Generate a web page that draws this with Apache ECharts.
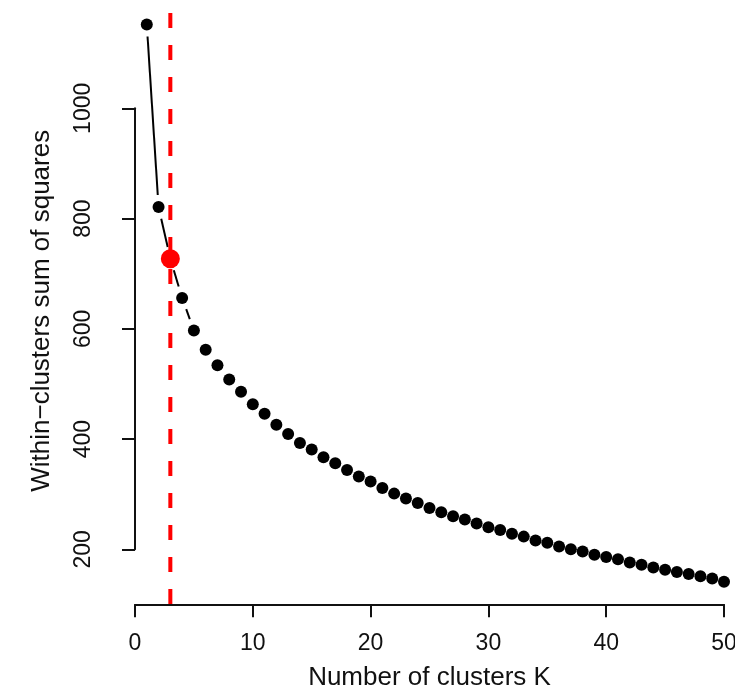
<!DOCTYPE html>
<html>
<head>
<meta charset="utf-8">
<title>Elbow plot</title>
<script src="https://cdn.jsdelivr.net/npm/echarts@6/dist/echarts.min.js"></script>
<style>
  html, body { margin: 0; padding: 0; background: #fff; }
  #chart { width: 735px; height: 691px; }
</style>
</head>
<body>
<div id="chart"></div>
<script>
// Number of clusters tried
const clusterK = [1, 2, 3, 4, 5, 6, 7, 8, 9, 10,
  11, 12, 13, 14, 15, 16, 17, 18, 19, 20,
  21, 22, 23, 24, 25, 26, 27, 28, 29, 30,
  31, 32, 33, 34, 35, 36, 37, 38, 39, 40,
  41, 42, 43, 44, 45, 46, 47, 48, 49, 50];

// Total within-cluster sum of squares for each K
const withinSS = [1152, 821, 727, 656, 597, 562, 534, 508, 486, 463,
  446, 426, 409, 393, 381, 367, 356, 344, 332, 323,
  311, 301, 292, 284, 275, 267, 260, 254, 247, 240,
  235, 228, 223, 216, 212, 205, 200, 196, 190, 186,
  182, 176, 172, 167, 163, 159, 155, 151, 147, 141];

// Chosen number of clusters (the elbow)
const elbowK = 3;

// Axis ticks
const xTicks = [0, 10, 20, 30, 40, 50];
const yTicks = [200, 400, 600, 800, 1000];

const xTitle = 'Number of clusters K';
const yTitle = 'Within\u2212clusters sum of squares';

// Full plotting region in data units (4% padding around the data range)
const yLo = Math.min(...withinSS), yHi = Math.max(...withinSS);
const yRegion = [yLo - 0.04 * (yHi - yLo), yHi + 0.04 * (yHi - yLo)];

const points = clusterK.map((k, i) => [k, withinSS[i]]);
const segments = [];
for (let i = 0; i < points.length - 1; i++) {
  segments.push([points[i][0], points[i][1], points[i + 1][0], points[i + 1][1]]);
}
const elbowPoint = [[elbowK, withinSS[clusterK.indexOf(elbowK)]]];
const elbowLine = [[elbowK, yRegion[0]], [elbowK, yRegion[1]]];

const FONT = '"Liberation Sans", Arial, Helvetica, sans-serif';
const INK = '#111111';
const GAP = 12; // blank space left around each point by the connecting segments

const chart = echarts.init(document.getElementById('chart'), null, { renderer: 'canvas' });

chart.setOption({
  animation: false,
  backgroundColor: '#ffffff',
  grid: {
    left: 135, right: 11, top: 108.3, bottom: 141.7,
    containLabel: false, outerBoundsMode: 'none'
  },
  xAxis: {
    type: 'value',
    min: xTicks[0],
    max: xTicks[xTicks.length - 1],
    interval: xTicks[1] - xTicks[0],
    offset: 55,
    splitLine: { show: false },
    axisLine: { show: true, lineStyle: { color: INK, width: 2 } },
    axisTick: { show: true, length: 13, lineStyle: { color: INK, width: 2 } },
    axisLabel: {
      margin: 28, fontSize: 23, color: INK, fontFamily: FONT,
      showMinLabel: true, showMaxLabel: true,
      formatter: v => String(v)
    },
    name: xTitle,
    nameLocation: 'middle',
    nameGap: 61,
    nameTextStyle: { fontSize: 26, color: INK, fontFamily: FONT }
  },
  yAxis: {
    type: 'value',
    min: yTicks[0],
    max: yTicks[yTicks.length - 1],
    interval: yTicks[1] - yTicks[0],
    offset: 12,
    splitLine: { show: false },
    axisLine: { show: true, lineStyle: { color: INK, width: 2 } },
    axisTick: { show: true, length: 13, lineStyle: { color: INK, width: 2 } },
    axisLabel: {
      rotate: 90, margin: 28, fontSize: 23, color: INK, fontFamily: FONT,
      showMinLabel: true, showMaxLabel: true,
      formatter: v => String(v)
    },
    name: yTitle,
    nameLocation: 'middle',
    nameRotate: 90,
    nameGap: 68,
    nameTextStyle: { fontSize: 26, color: INK, fontFamily: FONT, padding: [0, 0, 0, 36] }
  },
  series: [
    {
      // connecting segments, broken around each point
      type: 'custom',
      data: segments,
      clip: false,
      z: 2,
      silent: true,
      renderItem: function (params, api) {
        const a = api.coord([api.value(0), api.value(1)]);
        const b = api.coord([api.value(2), api.value(3)]);
        const dx = b[0] - a[0], dy = b[1] - a[1];
        const len = Math.sqrt(dx * dx + dy * dy);
        if (len <= 2 * GAP + 1) return null;
        const ux = dx / len, uy = dy / len;
        return {
          type: 'line',
          shape: {
            x1: a[0] + ux * GAP, y1: a[1] + uy * GAP,
            x2: b[0] - ux * GAP, y2: b[1] - uy * GAP
          },
          style: { stroke: '#000', lineWidth: 2 }
        };
      }
    },
    {
      type: 'scatter',
      data: points,
      symbol: 'circle',
      symbolSize: 12,
      clip: false,
      z: 3,
      itemStyle: { color: '#000', opacity: 1 }
    },
    {
      type: 'line',
      data: elbowLine,
      symbol: 'none',
      clip: false,
      z: 4,
      lineStyle: { color: '#ff0000', width: 4, type: [15, 17], opacity: 1 }
    },
    {
      type: 'scatter',
      data: elbowPoint,
      symbol: 'circle',
      symbolSize: 19,
      clip: false,
      z: 5,
      itemStyle: { color: '#ff0000', opacity: 1 }
    }
  ]
});
</script>
</body>
</html>
